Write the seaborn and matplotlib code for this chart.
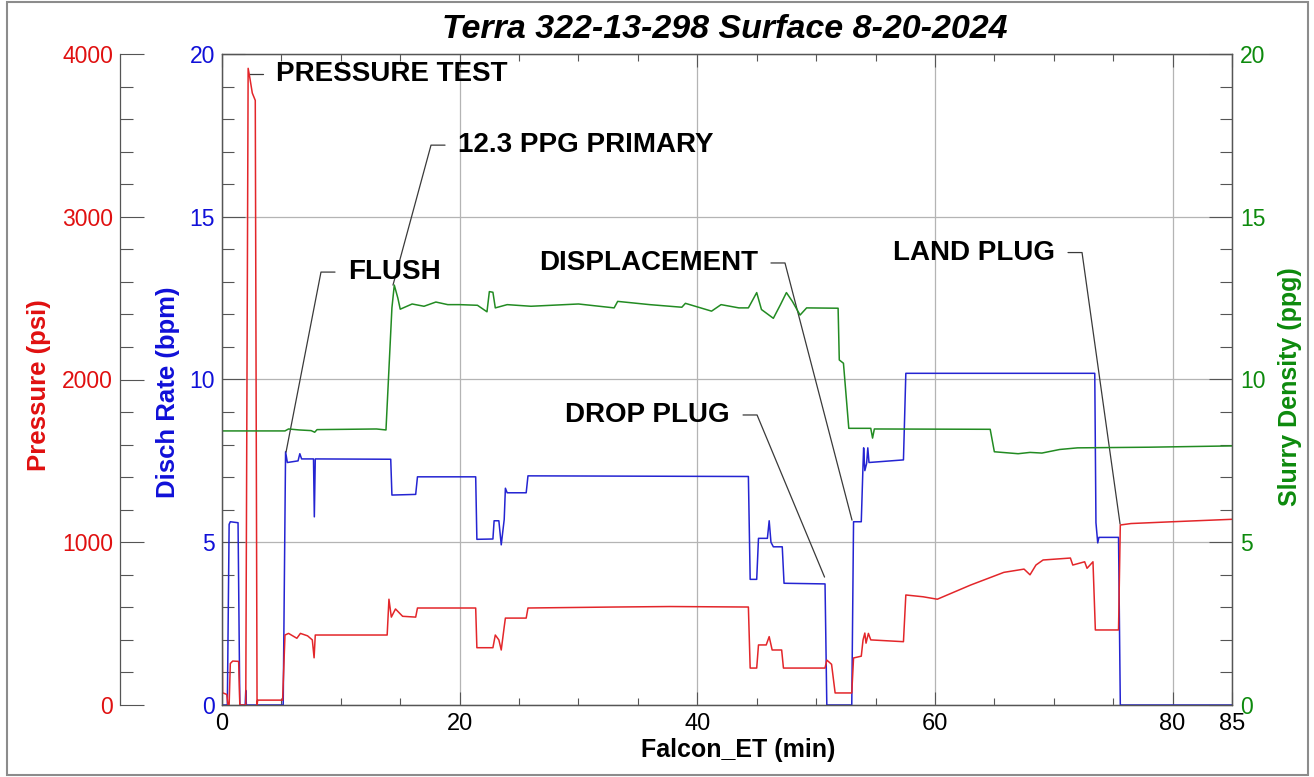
import matplotlib
matplotlib.use("Agg")
import matplotlib.pyplot as plt
import seaborn as sns
from matplotlib.patches import Rectangle
from matplotlib.ticker import MultipleLocator, FixedLocator

# ---------------- DATA ----------------
# pump rate, bpm
rate_t = [0, 0.45, 0.6, 0.7, 1.35, 1.5, 1.95, 2.0, 2.05, 5.15, 5.35, 5.5, 6.4, 6.55, 6.7,
          7.7, 7.77, 7.85, 14.2, 14.3, 16.3, 16.45, 21.35, 21.45, 22.8, 22.9, 23.3, 23.5,
          23.75, 23.85, 24.0, 25.6, 25.75, 44.3, 44.45, 45.0, 45.15, 45.9, 46.05, 46.2,
          46.4, 47.15, 47.3, 50.75, 50.9, 53.0, 53.15, 53.8, 53.95, 54.0, 54.1, 54.25,
          54.35, 54.45, 57.35, 57.55, 73.45, 73.55, 73.7, 73.8, 75.45, 75.6, 85]
rate = [0, 0, 5.55, 5.63, 5.6, 0, 0, 0.45, 0, 0, 7.78, 7.45, 7.5, 7.72, 7.56,
        7.56, 5.78, 7.56, 7.55, 6.45, 6.47, 7.01, 7.01, 5.09, 5.1, 5.66, 5.66, 4.92,
        5.7, 6.66, 6.52, 6.52, 7.04, 7.02, 3.86, 3.86, 5.12, 5.12, 5.66, 5.0,
        4.86, 4.86, 3.74, 3.72, 0, 0, 5.63, 5.63, 7.4, 7.9, 7.2, 7.42,
        7.9, 7.45, 7.53, 10.19, 10.19, 5.6, 4.98, 5.15, 5.15, 0, 0]

# treating pressure, psi
press_t = [0, 0.05, 0.4, 0.5, 0.6, 0.7, 0.9, 1.4, 1.5, 2.0, 2.2, 2.35, 2.55, 2.8, 2.95,
           3.0, 5.1, 5.3, 5.6, 6.3, 6.6, 7.2, 7.6, 7.75, 7.85, 13.9, 14.05, 14.25, 14.6,
           15.2, 16.3, 16.45, 21.35, 21.45, 22.8, 23.0, 23.3, 23.5, 23.75, 23.85, 25.6,
           25.75, 33, 37.7, 44.3, 44.45, 45.0, 45.15, 45.8, 46.05, 46.3, 47.1, 47.25,
           50.75, 50.9, 51.3, 51.6, 53.0, 53.15, 53.8, 53.95, 54.1, 54.2, 54.4, 54.6,
           57.35, 57.55, 59, 60.2, 63.0, 65.8, 67.5, 68.0, 68.5, 69.1, 71.4, 71.6, 72.6,
           72.8, 73.3, 73.5, 75.45, 75.6, 76.5, 80, 85]
press = [690, 75, 65, 0, 0, 255, 270, 268, 0, 0, 3912, 3850, 3760, 3715, 0,
         30, 30, 430, 440, 410, 440, 425, 400, 290, 430, 430, 650, 540, 590,
         545, 540, 596, 596, 352, 352, 430, 400, 338, 480, 534, 534,
         596, 602, 605, 602, 227, 227, 369, 369, 420, 338, 338, 227,
         227, 276, 250, 74, 74, 289, 300, 400, 442, 380, 440, 400,
         389, 676, 665, 650, 737, 815, 835, 800, 860, 891, 903, 860, 880,
         840, 880, 461, 461, 1106, 1115, 1126, 1141]

# slurry density, ppg
dens_t = [0, 5.3, 5.6, 6.5, 7.5, 7.8, 8.0, 13.0, 13.8, 14.3, 14.5, 14.8, 15.0, 16, 17,
          18, 19, 20, 21.5, 22.3, 22.5, 22.8, 23.0, 24, 26, 30, 33, 33.3, 36, 38.7,
          39, 41.2, 42, 43.5, 44.3, 45.0, 45.4, 46.4, 47.0, 47.5, 48.0, 48.65, 49.2,
          51.85, 51.95, 52.3, 52.75, 54.6, 54.75, 54.9, 64.65, 65.0, 66, 67, 68, 69,
          70.5, 72, 78, 85]
dens = [8.42, 8.42, 8.48, 8.45, 8.43, 8.38, 8.46, 8.48, 8.45, 12.2, 12.9, 12.5, 12.16, 12.32, 12.25,
        12.38, 12.3, 12.3, 12.28, 12.08, 12.7, 12.68, 12.2, 12.3, 12.25, 12.32, 12.2, 12.4, 12.3, 12.22,
        12.34, 12.1, 12.3, 12.2, 12.2, 12.67, 12.15, 11.88, 12.3, 12.67, 12.4, 11.98, 12.2,
        12.19, 10.6, 10.5, 8.5, 8.5, 8.2, 8.48, 8.47, 7.78, 7.75, 7.72, 7.76, 7.74,
        7.85, 7.9, 7.92, 7.96]

# event labels: text, target (t, rate units), elbow (t, rate units), text side
events = ["PRESSURE TEST", "12.3 PPG PRIMARY", "FLUSH", "DISPLACEMENT", "DROP PLUG", "LAND PLUG"]
ev_target = [(2.27, 19.39), (14.39, 12.90), (5.39, 7.77), (53.02, 5.68), (50.71, 3.93), (75.58, 5.56)]
ev_elbow = [(2.27, 19.39), (17.59, 17.20), (8.33, 13.30), (47.38, 13.58), (45.03, 8.91), (72.38, 13.90)]
ev_side = ["left", "left", "left", "right", "right", "right"]

# ---------------- STYLE ----------------
sns.set_style("ticks")
plt.rcParams["font.family"] = ["Liberation Sans", "DejaVu Sans"]
plt.rcParams["text.color"] = "black"
plt.rcParams["axes.labelcolor"] = "black"

RED, BLUE, GREEN = "#e3262a", "#2424d2", "#228b22"
RED_T, BLUE_T, GREEN_T = "#e01010", "#1010d8", "#0d8a0d"
AX_C = "#555555"

fig = plt.figure(figsize=(13.14, 7.77), dpi=100)
W, H = 1314, 777
ax = fig.add_axes([222 / W, 1 - 705 / H, 1010 / W, 651 / H])
ax_p = ax.twinx()
ax_d = ax.twinx()

# ---------------- LINES ----------------
sns.lineplot(x=rate_t, y=rate, ax=ax, color=BLUE, lw=1.1, sort=False, estimator=None)
sns.lineplot(x=press_t, y=press, ax=ax_p, color=RED, lw=1.1, sort=False, estimator=None)
sns.lineplot(x=dens_t, y=dens, ax=ax_d, color=GREEN, lw=1.1, sort=False, estimator=None)

# ---------------- AXES ----------------
ax.set_xlim(0, 85)
ax.set_ylim(0, 20)
ax_p.set_ylim(0, 4000)
ax_d.set_ylim(0, 20)

ax.xaxis.set_major_locator(FixedLocator([0, 20, 40, 60, 80, 85]))
ax.xaxis.set_minor_locator(MultipleLocator(5))
ax.yaxis.set_major_locator(MultipleLocator(5))
ax.yaxis.set_minor_locator(MultipleLocator(1))
ax_d.yaxis.set_major_locator(MultipleLocator(5))
ax_d.yaxis.set_minor_locator(MultipleLocator(1))
ax_p.yaxis.set_major_locator(MultipleLocator(1000))
ax_p.yaxis.set_minor_locator(MultipleLocator(200))

ax.grid(True, which="major", color="#b4b4b4", lw=0.9)
ax.set_axisbelow(True)

for a in (ax, ax_p, ax_d):
    for s in a.spines.values():
        s.set_color(AX_C)
        s.set_linewidth(0.9)

# bottom / top
ax.tick_params(axis="x", which="major", direction="in", length=9.5, width=0.8, color=AX_C,
               top=True, labelsize=17, pad=6, labelcolor="black")
ax.tick_params(axis="x", which="minor", direction="in", length=5, width=0.8, color=AX_C, top=True)

# blue (rate) on the plot's left spine
ax.tick_params(axis="y", which="major", direction="in", length=16.5, width=0.8, color=AX_C,
               labelsize=16.5, labelcolor=BLUE_T, pad=5, right=False)
ax.tick_params(axis="y", which="minor", direction="in", length=8.5, width=0.8, color=AX_C, right=False)

# red (pressure) on an offset left spine
ax_p.spines["left"].set_position(("axes", -0.101))
ax_p.spines["left"].set_visible(True)
ax_p.spines["right"].set_visible(False)
ax_p.spines["top"].set_visible(False)
ax_p.spines["bottom"].set_visible(False)
ax_p.yaxis.set_ticks_position("left")
ax_p.yaxis.set_label_position("left")
ax_p.tick_params(axis="y", which="major", direction="in", length=17, width=0.8, color=AX_C,
                 labelsize=16.5, labelcolor=RED_T, pad=5)
ax_p.tick_params(axis="y", which="minor", direction="in", length=9, width=0.8, color=AX_C)

# green (density) on the right spine
ax_d.tick_params(axis="y", which="major", direction="in", length=16.5, width=0.8, color=AX_C,
                 labelsize=16.5, labelcolor=GREEN_T, pad=6)
ax_d.tick_params(axis="y", which="minor", direction="in", length=8.5, width=0.8, color=AX_C)

ax.set_xlabel("")
ax.set_ylabel("")
ax_p.set_ylabel("")
ax_d.set_ylabel("")

# axis titles
fig.text(39 / W, 1 - 385 / H, "Pressure (psi)", color=RED_T, fontsize=18.5, weight="bold",
         rotation=90, ha="center", va="center")
fig.text(168 / W, 1 - 392 / H, "Disch Rate (bpm)", color=BLUE_T, fontsize=18.5, weight="bold",
         rotation=90, ha="center", va="center")
fig.text(1290 / W, 1 - 387 / H, "Slurry Density (ppg)", color=GREEN_T, fontsize=18, weight="bold",
         rotation=90, ha="center", va="center")
fig.text(738 / W, 1 - 750 / H, "Falcon_ET (min)", color="black", fontsize=18, weight="bold",
         ha="center", va="center")
fig.text(725 / W, 1 - 30 / H, "Terra 322-13-298 Surface 8-20-2024", color="black", fontsize=24.5,
         weight="bold", style="italic", ha="center", va="center")

# ---------------- EVENT LABELS ----------------
dx = 1.18  # horizontal stub of each leader, minutes
gap = 1.1
for name, (tx, ty), (ex, ey), side in zip(events, ev_target, ev_elbow, ev_side):
    sgn = 1 if side == "left" else -1
    xs = [tx, ex, ex + sgn * dx]
    ys = [ty, ey, ey]
    ax.plot(xs, ys, color="#3a3a3a", lw=0.9, zorder=5)
    ax_d.text(ex + sgn * (dx + gap), ey, name, fontsize=20, weight="bold", color="black",
              ha=side, va="center", zorder=6)

# outer frame
fig.patches.append(Rectangle((7 / W, 2 / H), 1301 / W, 773 / H, transform=fig.transFigure,
                             fill=False, edgecolor="#8c8c8c", lw=1.5))

fig.savefig("out.png", dpi=100)
